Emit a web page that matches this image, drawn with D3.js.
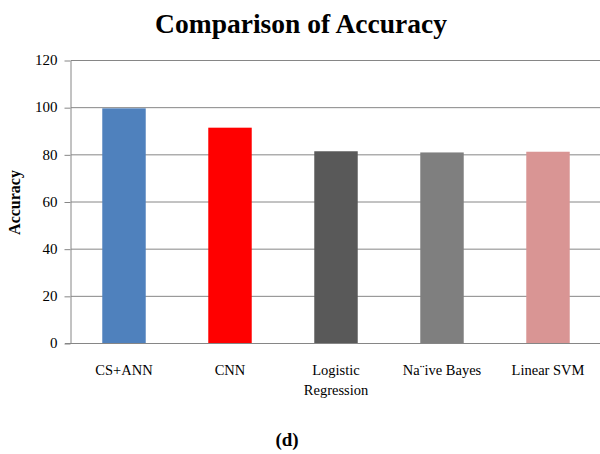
<!DOCTYPE html>
<html>
<head>
<meta charset="utf-8">
<script src="https://cdn.jsdelivr.net/npm/d3@7"></script>
<style>
  body { margin: 0; background: #fff; }
  svg { display: block; }
  text { font-family: "Liberation Serif", "DejaVu Serif", serif; fill: #000; }
</style>
</head>
<body>
<div id="chart"></div>
<script>
const categories = ["CS+ANN", "CNN", "Logistic Regression", "Na¨ive Bayes", "Linear SVM"];
const accuracy = [99.5, 91.3, 81.3, 80.8, 81.1];
const barColors = ["#4f81bd", "#ff0000", "#595959", "#7f7f7f", "#d99594"];
const yTicks = [0, 20, 40, 60, 80, 100, 120];

const margin = {top: 60, right: -1, bottom: 111, left: 71},
    width = 600 - margin.left - margin.right,
    height = 454 - margin.top - margin.bottom;

const svg = d3.select("#chart").append("svg")
    .attr("width", 600)
    .attr("height", 454);

const g = svg.append("g")
    .attr("transform", "translate(" + margin.left + "," + margin.top + ")");

const x = d3.scaleBand()
    .domain(categories)
    .range([0, width])
    .paddingInner(0.59)
    .paddingOuter(0.295);

const y = d3.scaleLinear()
    .domain([0, 120])
    .range([height, 0]);

// gridlines
g.selectAll(".grid")
    .data(yTicks.filter(function(d) { return d > 0; }))
    .enter()
    .append("line")
    .attr("class", "grid")
    .attr("x1", 0)
    .attr("x2", width)
    .attr("y1", function(d) { return y(d) + 0.5; })
    .attr("y2", function(d) { return y(d) + 0.5; })
    .attr("stroke", "#868686")
    .attr("stroke-width", 1);

// bars
g.selectAll(".bar")
    .data(accuracy)
    .enter()
    .append("rect")
    .attr("class", "bar")
    .attr("x", function(d, i) { return x(categories[i]); })
    .attr("width", x.bandwidth())
    .attr("y", function(d) { return y(d); })
    .attr("height", function(d) { return height - y(d); })
    .attr("fill", function(d, i) { return barColors[i]; });

// y axis
const yAxis = g.append("g")
    .attr("class", "y axis")
    .attr("transform", "translate(-0.5,0)")
    .call(d3.axisLeft(y).tickValues(yTicks).tickSize(6).tickSizeOuter(0).tickPadding(7))
    .attr("font-family", "Liberation Serif")
    .attr("font-size", 15);
yAxis.select(".domain").attr("stroke", "#868686");
yAxis.selectAll(".tick line").attr("stroke", "#868686").attr("transform", "translate(0,0.5)");
yAxis.selectAll("text")
    .style("font-family", "Liberation Serif")
    .attr("fill", "#000");

// x axis
const xAxis = g.append("g")
    .attr("class", "x axis")
    .attr("transform", "translate(0," + (height + 0.5) + ")")
    .call(d3.axisBottom(x).tickSize(0).tickPadding(21))
    .attr("font-family", "Liberation Serif")
    .attr("font-size", 14.5);
xAxis.select(".domain").attr("stroke", "#868686").attr("d", "M-6,0H" + width);
xAxis.selectAll("text")
    .style("font-family", "Liberation Serif")
    .attr("fill", "#000")
    .each(function(d) {
        const t = d3.select(this);
        if (d === "Logistic Regression") {
            t.text(null);
            t.append("tspan").attr("x", 0).attr("dy", "0.71em").text("Logistic");
            t.append("tspan").attr("x", 0).attr("dy", "1.4em").text("Regression");
            t.attr("dy", null);
        }
    });

// y label
svg.append("text")
    .attr("transform", "translate(20," + (margin.top + height / 2 + 1) + ") rotate(-90)")
    .attr("text-anchor", "middle")
    .style("font-size", "16px")
    .style("font-weight", "bold")
    .text("Accuracy");

// title
svg.append("text")
    .attr("x", 301)
    .attr("y", 33)
    .attr("text-anchor", "middle")
    .style("font-size", "27.5px")
    .style("font-weight", "bold")
    .text("Comparison of Accuracy");

// panel label
svg.append("text")
    .attr("x", 287)
    .attr("y", 446)
    .attr("text-anchor", "middle")
    .style("font-size", "19px")
    .style("font-weight", "bold")
    .text("(d)");
</script>
</body>
</html>
